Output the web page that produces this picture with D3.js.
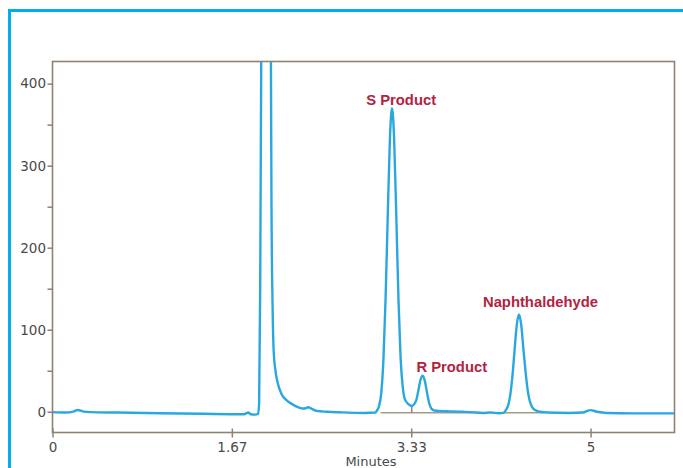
<!DOCTYPE html>
<html><head><meta charset="utf-8">
<script src="https://cdn.jsdelivr.net/npm/d3@7"></script>
<style>
html,body{margin:0;padding:0;background:#fff;}
svg{display:block;}
</style></head>
<body>
<svg id="c" width="683" height="468"></svg>
<script>
// ---- data ----
const xTicks = [0, 5/3, 10/3, 5];
const xTickLabels = ["0", "1.67", "3.33", "5"];
const yTicksMajor = [0, 100, 200, 300, 400];
const yTicksMinor = [50, 150, 250, 350];
const xLabel = "Minutes";

// chromatogram trace: [minutes, response]
const trace = [
 [0.00,-0.5],[0.12,-1],[0.20,0.5],[0.237,2.2],[0.28,0.5],[0.35,-0.5],[0.60,-1],[1.00,-1.8],
 [1.40,-2.5],[1.78,-3],[1.82,-1],[1.84,-3],[1.88,-3.5],[1.91,-3],[1.92,10],[1.93,150],
 [1.945,600],[1.985,1500],[2.025,600],[2.035,250],[2.045,130],[2.055,75],[2.07,52],[2.093,35],
 [2.13,21],[2.176,14],[2.23,9],[2.28,5.5],[2.32,4],[2.345,4],[2.377,5.4],[2.41,3.5],
 [2.455,1],[2.55,0],[2.67,-0.7],[2.90,-1.5],[3.00,-1],[3.015,1.5],[3.035,7],[3.055,23],
 [3.075,63],[3.095,137],[3.115,237],[3.135,331],[3.155,370],[3.175,331],[3.195,237],[3.215,137],
 [3.235,65],[3.255,30],[3.275,15],[3.31,9],[3.338,7],[3.36,9],[3.38,14],[3.40,26],
 [3.42,39],[3.44,44],[3.46,37.6],[3.48,23.5],[3.50,10.7],[3.52,4],[3.55,1.5],[3.60,1],
 [3.70,0.5],[3.80,0],[3.90,-0.5],[4.00,-1.5],[4.07,-0.8],[4.15,-1.8],[4.195,-1],[4.215,2.5],
 [4.235,8],[4.255,21.5],[4.275,45],[4.295,77],[4.315,106.5],[4.335,118.5],[4.355,106.5],[4.375,78],
 [4.395,50],[4.415,27],[4.435,13],[4.455,6],[4.485,2],[4.53,0],[4.60,-1],[4.80,-1.5],
 [4.93,-1],[4.97,1],[5.00,2],[5.06,0],[5.15,-1.5],[5.40,-2],[5.78,-2]
];

// integration baseline [t0, v0, t1, v1] and drop line [t, vTop, vBottom]
const integrationBaseline = [3.05, -1.2, 4.56, -1.2];
const dropLine = [3.338, 7, -1.2];

const peakLabels = ["S Product", "R Product", "Naphthaldehyde"];
const peakLabelT = [3.24, 3.71, 4.535];
const peakLabelV = [374, 48.7, 128];

// ---- layout ----
const L = 52.5, R = 674.5, T = 61.5, B = 432.5;
const frameColor = "#8c8373";
const svg = d3.select("#c");

const x = d3.scaleLinear().domain([0, 5.78]).range([L, R]);
const y = d3.scaleLinear().domain([-25.3, 427]).range([B, T]);

// blue page border
svg.append("path")
  .attr("d", `M9.5,468 L9.5,10.5 L683,10.5`)
  .attr("fill", "none").attr("stroke", "#00aeef").attr("stroke-width", 3);

// clip
svg.append("clipPath").attr("id", "plotclip")
  .append("rect").attr("x", L).attr("y", T).attr("width", R - L).attr("height", B - T);

// integration lines
svg.append("line")
  .attr("x1", x(integrationBaseline[0])).attr("y1", y(integrationBaseline[1]))
  .attr("x2", x(integrationBaseline[2])).attr("y2", y(integrationBaseline[3]))
  .attr("stroke", "#a39b8c").attr("stroke-width", 1.5);
svg.append("line")
  .attr("x1", x(dropLine[0])).attr("y1", y(dropLine[1]))
  .attr("x2", x(dropLine[0])).attr("y2", y(dropLine[2]))
  .attr("stroke", "#8c8373").attr("stroke-width", 1.5);

// trace
const line = d3.line().x(d => x(d[0])).y(d => y(d[1])).curve(d3.curveMonotoneX);
svg.append("path").datum(trace)
  .attr("clip-path", "url(#plotclip)")
  .attr("d", line)
  .attr("fill", "none").attr("stroke", "#29a8e0").attr("stroke-width", 2.4)
  .attr("stroke-linejoin", "round");

// frame
svg.append("rect").attr("x", L).attr("y", T).attr("width", R - L).attr("height", B - T)
  .attr("fill", "none").attr("stroke", frameColor).attr("stroke-width", 1.6);

// y axis
const yAxis = d3.axisLeft(y).tickValues(yTicksMajor.concat(yTicksMinor).sort((a,b)=>a-b))
  .tickSize(5).tickFormat(d => yTicksMajor.includes(d) ? String(d) : "");
const ya = svg.append("g").attr("transform", `translate(${L},0)`).call(yAxis);
ya.select(".domain").remove();
ya.selectAll(".tick line").attr("stroke", frameColor).attr("stroke-width", 1.5);
ya.selectAll(".tick text").attr("x", -6.5)
  .attr("font-family", "DejaVu Sans, sans-serif").attr("font-size", 13.5).attr("fill", "#4a4a4a");

// x axis
const xAxis = d3.axisBottom(x).tickValues(xTicks).tickSize(5)
  .tickFormat((d, i) => xTickLabels[i]);
const xa = svg.append("g").attr("transform", `translate(0,${B})`).call(xAxis);
xa.select(".domain").remove();
xa.selectAll(".tick line").attr("stroke", frameColor).attr("stroke-width", 1.5).attr("y1", -4);
xa.selectAll(".tick text").attr("y", 10).attr("dy", "0.71em")
  .attr("font-family", "DejaVu Sans, sans-serif").attr("font-size", 13.5).attr("fill", "#4a4a4a");

svg.append("text").attr("x", 371).attr("y", 465.5).attr("text-anchor", "middle")
  .attr("font-family", "DejaVu Sans, sans-serif").attr("font-size", 13).attr("fill", "#4a4a4a")
  .text(xLabel);

// peak labels
svg.selectAll(".plabel").data(peakLabels).enter().append("text")
  .attr("class", "plabel")
  .attr("x", (d, i) => x(peakLabelT[i])).attr("y", (d, i) => y(peakLabelV[i]))
  .attr("text-anchor", "middle")
  .attr("font-family", "Liberation Sans, Arial, sans-serif").attr("font-weight", "bold")
  .attr("font-size", 14.8).attr("fill", "#b3233f")
  .text(d => d);
</script>
</body></html>
